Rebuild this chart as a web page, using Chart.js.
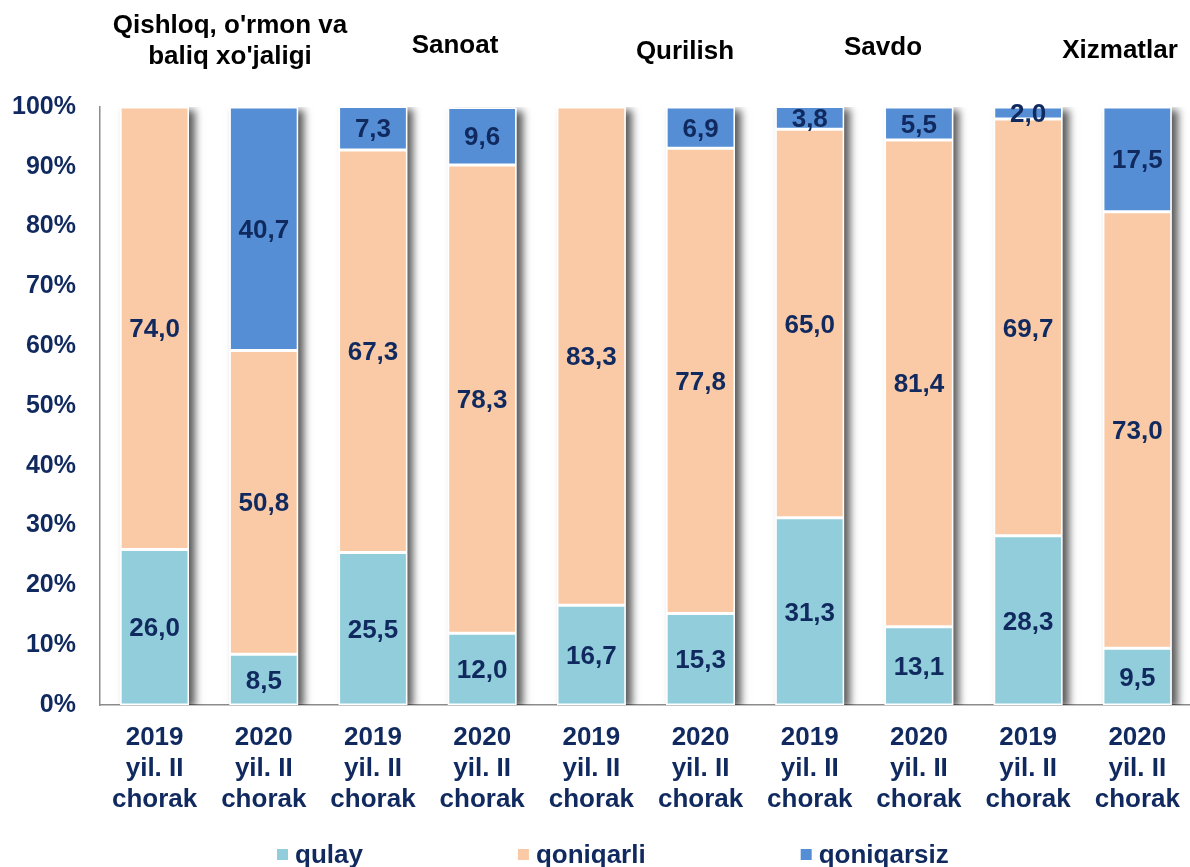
<!DOCTYPE html>
<html>
<head>
<meta charset="utf-8">
<script src="https://cdn.jsdelivr.net/npm/chart.js@4.4.1/dist/chart.umd.min.js"></script>
<style>
  html, body { margin: 0; padding: 0; background: #fff; overflow: hidden; }
  #wrap { width: 1197px; height: 867px; }
</style>
</head>
<body>
<div id="wrap"><canvas id="myChart" width="1197" height="867"></canvas></div>
<script>
// x categories (multi-line tick labels)
var categories = [
  ['2019', 'yil. II', 'chorak'], ['2020', 'yil. II', 'chorak'],
  ['2019', 'yil. II', 'chorak'], ['2020', 'yil. II', 'chorak'],
  ['2019', 'yil. II', 'chorak'], ['2020', 'yil. II', 'chorak'],
  ['2019', 'yil. II', 'chorak'], ['2020', 'yil. II', 'chorak'],
  ['2019', 'yil. II', 'chorak'], ['2020', 'yil. II', 'chorak']
];
var groupTitles = [["Qishloq, o'rmon va", "baliq xo'jaligi"], ['Sanoat'], ['Qurilish'], ['Savdo'], ['Xizmatlar']];
var seriesNames = ['qulay', 'qoniqarli', 'qoniqarsiz'];
var qulay      = [26.0, 8.5, 25.5, 12.0, 16.7, 15.3, 31.3, 13.1, 28.3, 9.5];
var qoniqarli  = [74.0, 50.8, 67.3, 78.3, 83.3, 77.8, 65.0, 81.4, 69.7, 73.0];
var qoniqarsiz = [0, 40.7, 7.3, 9.6, 0, 6.9, 3.8, 5.5, 2.0, 17.5];
var yTickMax = 100, yTickStep = 10;

var FONT = "'Liberation Sans', Arial, sans-serif";
var NAVY = '#10295F';
var colors = ['#92CDDC', '#F9CAA5', '#558ED5'];

// title text positions (pixels): [centerX, baselines...]
var titlePos = [[230, 33, 64], [455, 53], [685, 59], [883, 55], [1120, 58]];

var barShadow = {
  id: 'barShadow',
  beforeDatasetsDraw: function (chart) {
    var ctx = chart.ctx, a = chart.chartArea;
    var metas = chart.data.datasets.map(function (d, i) { return chart.getDatasetMeta(i).data; });
    ctx.save();
    ctx.beginPath();
    ctx.rect(a.left, a.top, a.right - a.left, a.bottom - a.top);
    ctx.clip();
    ctx.shadowColor = 'rgba(0,0,0,0.65)';
    ctx.shadowBlur = 8;
    ctx.shadowOffsetX = 6;
    ctx.shadowOffsetY = 3;
    ctx.fillStyle = '#fff';
    metas[0].forEach(function (bar, i) {
      var top = Math.min.apply(null, metas.map(function (m) { return m[i].y; }));
      ctx.fillRect(bar.x - bar.width / 2, top, bar.width, bar.base - top);
    });
    ctx.restore();
  }
};

var valueLabels = {
  id: 'valueLabels',
  afterDatasetsDraw: function (chart) {
    var ctx = chart.ctx;
    ctx.save();
    ctx.font = 'bold 26px ' + FONT;
    ctx.fillStyle = NAVY;
    ctx.textAlign = 'center';
    ctx.textBaseline = 'middle';
    chart.data.datasets.forEach(function (ds, di) {
      chart.getDatasetMeta(di).data.forEach(function (el, i) {
        var v = ds.data[i];
        if (!v) return;
        var p = el.getCenterPoint();
        ctx.fillText(v.toFixed(1).replace('.', ','), p.x, p.y + 2);
      });
    });
    ctx.restore();
  }
};

var titlesAndLegend = {
  id: 'titlesAndLegend',
  afterDraw: function (chart) {
    var ctx = chart.ctx;
    ctx.save();
    ctx.font = 'bold 26px ' + FONT;
    ctx.fillStyle = '#000';
    ctx.textAlign = 'center';
    ctx.textBaseline = 'alphabetic';
    groupTitles.forEach(function (lines, g) {
      lines.forEach(function (t, k) {
        ctx.fillText(t, titlePos[g][0], titlePos[g][k + 1]);
      });
    });
    // legend
    ctx.textAlign = 'left';
    var x = 277;
    chart.data.datasets.forEach(function (ds) {
      ctx.fillStyle = ds.backgroundColor;
      ctx.fillRect(x, 849, 11, 11);
      ctx.fillStyle = NAVY;
      ctx.fillText(ds.label, x + 18, 863);
      x += 18 + ctx.measureText(ds.label).width + 155;
    });
    ctx.restore();
  }
};

var ctx = document.getElementById('myChart').getContext('2d');
var myChart = new Chart(ctx, {
  type: 'bar',
  data: {
    labels: categories,
    datasets: [
      { label: seriesNames[0], data: qulay, backgroundColor: colors[0] },
      { label: seriesNames[1], data: qoniqarli, backgroundColor: colors[1] },
      { label: seriesNames[2], data: qoniqarsiz, backgroundColor: colors[2] }
    ]
  },
  options: {
    responsive: false,
    animation: false,
    layout: { padding: { top: 107, bottom: 52, left: 0, right: 1 } },
    datasets: {
      bar: {
        categoryPercentage: 1,
        barPercentage: 0.63,
        borderColor: '#fff',
        borderWidth: 1.5,
        borderSkipped: false
      }
    },
    plugins: {
      legend: { display: false },
      tooltip: { enabled: false }
    },
    scales: {
      x: {
        stacked: true,
        grid: { display: false, drawTicks: false },
        border: { display: true, color: '#8C8C8C', width: 1.5 },
        ticks: {
          color: NAVY,
          font: { family: FONT, size: 26, weight: 'bold', lineHeight: 1.19 },
          padding: 17,
          maxRotation: 0,
          autoSkip: false
        },
        afterFit: function (s) { s.height = 110; }
      },
      y: {
        stacked: true,
        min: 0,
        max: yTickMax,
        grid: { display: false, drawTicks: false },
        border: { display: true, color: '#8C8C8C', width: 1.5 },
        ticks: {
          stepSize: yTickStep,
          color: NAVY,
          font: { family: FONT, size: 25, weight: 'bold' },
          padding: 24,
          callback: function (v) { return v + '%'; }
        },
        afterFit: function (s) { s.width = 100; }
      }
    }
  },
  plugins: [barShadow, valueLabels, titlesAndLegend]
});
</script>
</body>
</html>
